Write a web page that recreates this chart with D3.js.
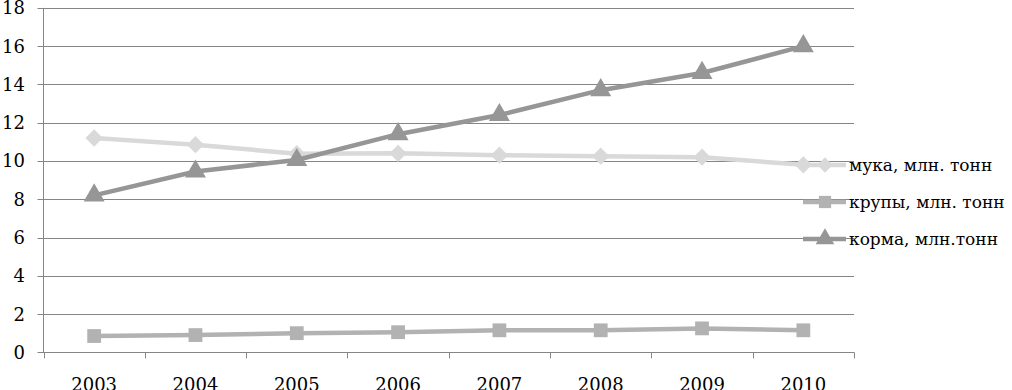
<!DOCTYPE html>
<html><head><meta charset="utf-8">
<script src="https://cdn.jsdelivr.net/npm/d3@7"></script>
<style>body{margin:0;background:#fff}svg{display:block}</style>
</head><body>
<svg id="c" width="1012" height="390"></svg>
<script>
const years = ["2003","2004","2005","2006","2007","2008","2009","2010"];
const muka = [11.2, 10.85, 10.38, 10.4, 10.3, 10.25, 10.2, 9.8];
const krupy = [0.85, 0.9, 1.0, 1.05, 1.15, 1.15, 1.25, 1.15];
const korma = [8.2, 9.45, 10.05, 11.4, 12.4, 13.7, 14.6, 16.0];
const yTicks = [0,2,4,6,8,10,12,14,16,18];
const seriesNames = ["мука, млн. тонн","крупы, млн. тонн","корма, млн.тонн"];

const series = [
  {name: seriesNames[0], values: muka, color: "#d9d9d9", sym: d3.symbolDiamond2},
  {name: seriesNames[1], values: krupy, color: "#b2b2b2", sym: d3.symbolSquare},
  {name: seriesNames[2], values: korma, color: "#969696", sym: d3.symbolTriangle}
];

const svg = d3.select("#c");
const pL = 43.5, pR = 854, pT = 7.9, pB = 352.3;
const x = d3.scaleBand().domain(years).range([pL, pR]);
const y = d3.scaleLinear().domain([0,18]).range([pB, pT]);
const font = "'DejaVu Serif', serif";

const g = svg.append("g");
g.selectAll("line.grid").data(yTicks).join("line")
  .attr("x1", pL-6).attr("x2", pR)
  .attr("y1", d => Math.round(y(d))+0.5).attr("y2", d => Math.round(y(d))+0.5)
  .attr("stroke", "#868686").attr("stroke-width", 1);
g.selectAll("text.yl").data(yTicks).join("text")
  .attr("x", 25).attr("y", d => y(d)).attr("dy", "0.36em")
  .attr("text-anchor", "end").attr("font-family", font).attr("font-size", 18)
  .attr("fill", "#000").text(d => d);

svg.append("line").attr("x1", 43.5).attr("x2", 43.5).attr("y1", y(18)).attr("y2", pB)
  .attr("stroke", "#868686");

const bounds = years.map(d => x(d)).concat([pR]);
svg.selectAll("line.xt").data(bounds).join("line")
  .attr("x1", d => Math.round(d)+0.5).attr("x2", d => Math.round(d)+0.5)
  .attr("y1", pB).attr("y2", pB+6).attr("stroke", "#868686");
svg.selectAll("text.xl").data(years).join("text")
  .attr("x", d => x(d) + x.bandwidth()/2).attr("y", 391)
  .attr("text-anchor", "middle").attr("font-family", font).attr("font-size", 18)
  .attr("fill", "#000").text(d => d);

const line = d3.line().x((d,i) => x(years[i]) + x.bandwidth()/2).y(d => y(d));

series.forEach(s => {
  svg.append("path").attr("d", line(s.values)).attr("fill", "none")
    .attr("stroke", s.color).attr("stroke-width", 4.5).attr("stroke-linejoin", "round");
  svg.selectAll(null).data(s.values).join("path")
    .attr("transform", (d,i) => `translate(${x(years[i]) + x.bandwidth()/2},${y(d)})`)
    .attr("d", d3.symbol(s.sym, 190)())
    .attr("fill", s.color);
});

const legY = [165, 202, 239];
series.forEach((s, i) => {
  const gg = svg.append("g");
  gg.append("line").attr("x1", 803).attr("x2", 846).attr("y1", legY[i]).attr("y2", legY[i])
    .attr("stroke", s.color).attr("stroke-width", 4.5);
  gg.append("path").attr("transform", `translate(825,${legY[i]})`)
    .attr("d", d3.symbol(s.sym, 150)()).attr("fill", s.color);
  gg.append("text").attr("x", 849).attr("y", legY[i]).attr("dy", "0.36em")
    .attr("font-family", font).attr("font-size", 17).attr("fill", "#000").text(s.name);
});
</script>
</body></html>
